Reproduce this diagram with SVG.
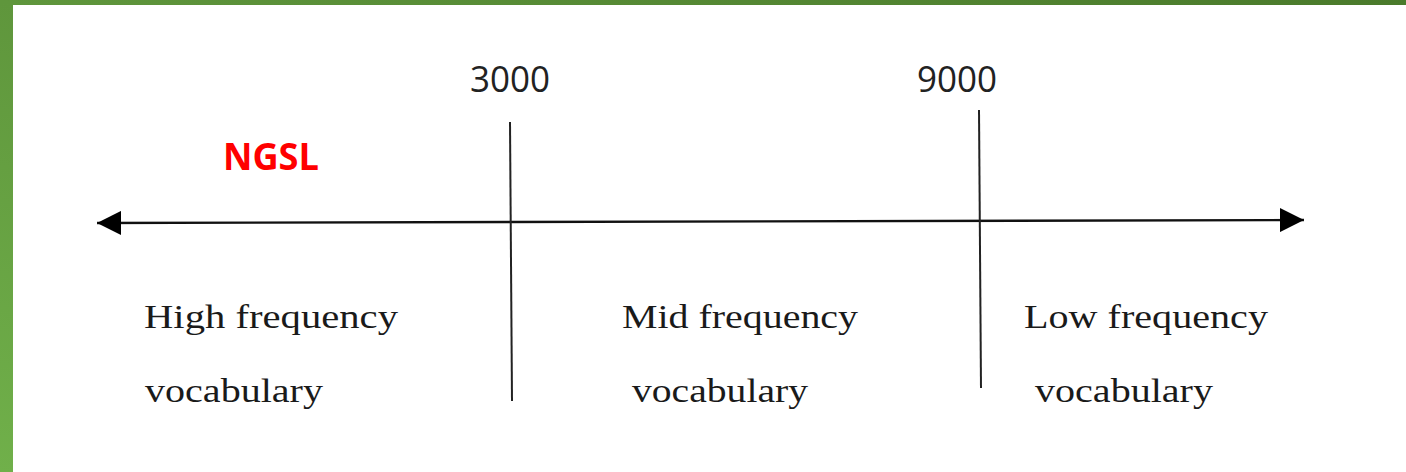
<svg xmlns="http://www.w3.org/2000/svg" width="1406" height="472" viewBox="0 0 1406 472">
  <defs>
    <linearGradient id="frame" x1="0" y1="1" x2="1" y2="0">
      <stop offset="0" stop-color="#70b04a"/>
      <stop offset="0.5" stop-color="#5f963c"/>
      <stop offset="1" stop-color="#4a7a2b"/>
    </linearGradient>
    <marker id="head" viewBox="0 0 24 24" refX="24" refY="12" markerWidth="24" markerHeight="24" markerUnits="userSpaceOnUse" orient="auto-start-reverse">
      <path d="M0,0 L24,12 L0,24 Z" fill="#000"/>
    </marker>
    <style>
      .axis { stroke: #111; stroke-width: 2.4; fill: none; }
      .tick { stroke: #222; stroke-width: 2; fill: none; }
      .num { font-family: "Open Sans", "Liberation Sans", sans-serif; font-size: 36px; fill: #222; }
      .lbl { font-family: "Liberation Serif", "DejaVu Serif", serif; font-size: 34px; fill: #1a1a1a; }
      .ngsl { font-family: "Open Sans", "Liberation Sans", sans-serif; font-weight: bold; font-size: 38px; fill: #ff0000; }
    </style>
  </defs>

  <!-- green frame on the left and top edges -->
  <rect x="0" y="0" width="1406" height="472" fill="url(#frame)"/>
  <rect x="13" y="5" width="1393" height="467" fill="#ffffff"/>

  <!-- connectors: the frequency axis and its two boundary ticks -->
  <g id="connectors">
    <line class="axis" x1="97" y1="223" x2="1304" y2="220" marker-start="url(#head)" marker-end="url(#head)"/>
    <line class="tick" x1="510" y1="122" x2="512" y2="401"/>
    <line class="tick" x1="979" y1="110" x2="981" y2="388"/>
  </g>

  <g id="label-ngsl">
    <text class="ngsl" x="223" y="170" textLength="96" lengthAdjust="spacingAndGlyphs">NGSL</text>
  </g>

  <g id="mark-3000">
    <text class="num" x="470" y="92" textLength="80" lengthAdjust="spacingAndGlyphs">3000</text>
  </g>

  <g id="mark-9000">
    <text class="num" x="917" y="92" textLength="80" lengthAdjust="spacingAndGlyphs">9000</text>
  </g>

  <g id="band-high">
    <text class="lbl" x="144" y="328" textLength="254" lengthAdjust="spacingAndGlyphs">High frequency</text>
    <text class="lbl" x="145" y="402" textLength="178" lengthAdjust="spacingAndGlyphs">vocabulary</text>
  </g>

  <g id="band-mid">
    <text class="lbl" x="622" y="328" textLength="236" lengthAdjust="spacingAndGlyphs">Mid frequency</text>
    <text class="lbl" x="632" y="402" textLength="176" lengthAdjust="spacingAndGlyphs">vocabulary</text>
  </g>

  <g id="band-low">
    <text class="lbl" x="1024" y="328" textLength="244" lengthAdjust="spacingAndGlyphs">Low frequency</text>
    <text class="lbl" x="1035" y="402" textLength="178" lengthAdjust="spacingAndGlyphs">vocabulary</text>
  </g>
</svg>
